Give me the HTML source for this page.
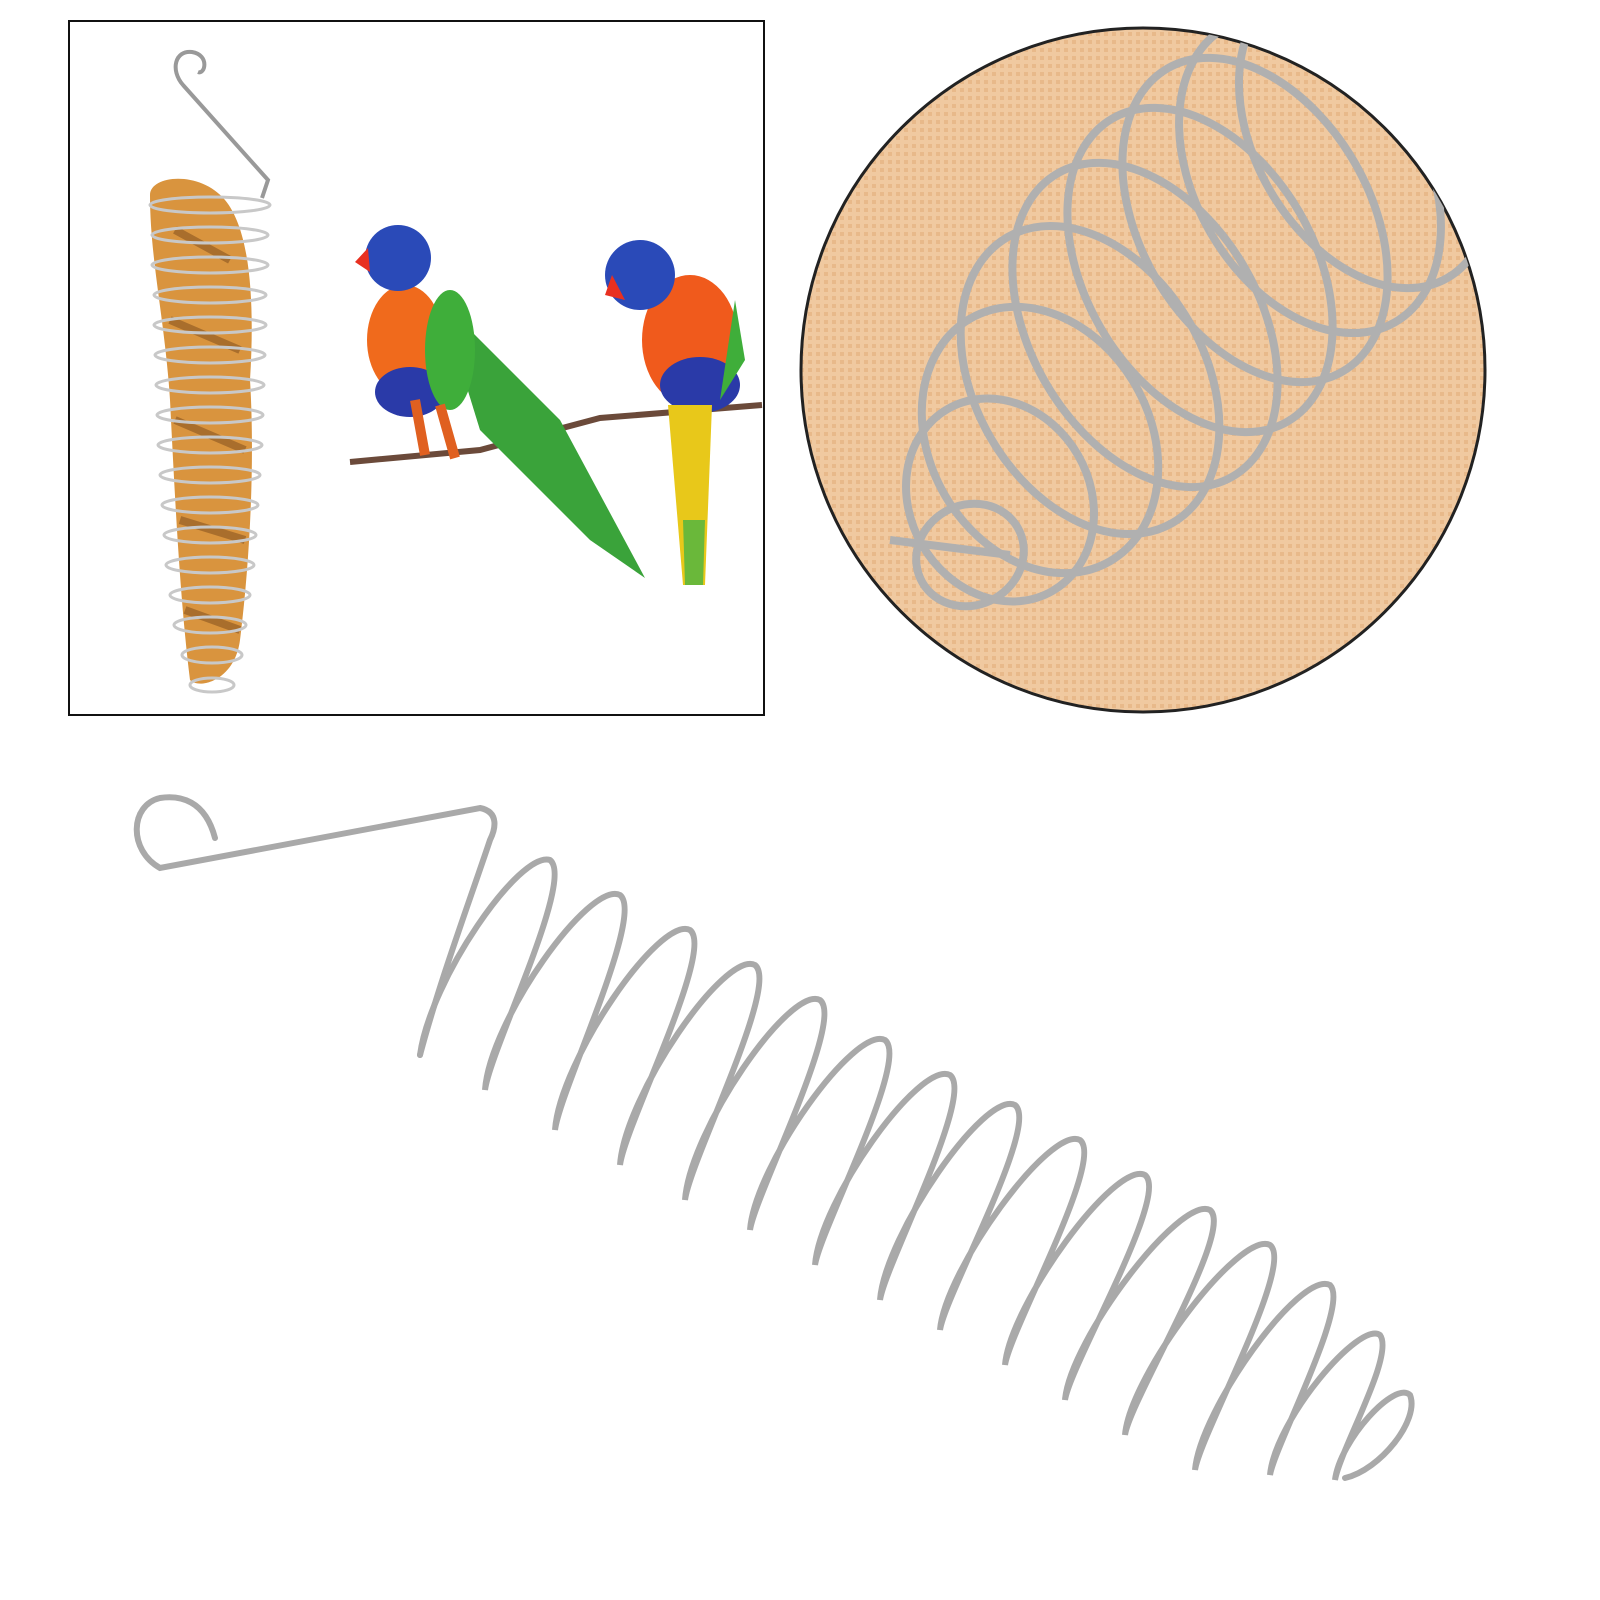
<!DOCTYPE html>
<html><head><meta charset="utf-8"><style>
html,body{margin:0;padding:0;background:#fff;}
svg{display:block;}
</style></head><body>
<svg width="1600" height="1600" viewBox="0 0 1600 1600" xmlns="http://www.w3.org/2000/svg">
<defs>
<clipPath id="cc"><circle cx="1143" cy="370" r="342"/></clipPath>
<pattern id="mesh" width="8" height="8" patternUnits="userSpaceOnUse">
<rect width="8" height="8" fill="#f0c9a0"/><rect width="4" height="4" fill="#e8b98a"/>
</pattern>
</defs>
<rect width="1600" height="1600" fill="#fff"/>
<rect x="69" y="21" width="695" height="694" fill="#fff" stroke="#111" stroke-width="2"/>
<path d="M183 85 C170 70 175 50 192 52 C210 55 205 75 198 72 M183 85 L268 180 L262 198" fill="none" stroke="#999" stroke-width="4"/>
<path d="M150 195 C150 175 200 170 225 200 C250 230 255 300 250 380 C255 460 250 560 240 640 C235 680 200 690 190 680 C180 600 175 500 170 400 C165 320 150 260 150 195 Z" fill="#d9943e"/>
<path d="M175 230 L230 260 M170 320 L240 350 M175 420 L245 450 M180 520 L245 540 M185 610 L240 630" stroke="#7a4a1c" stroke-width="8" opacity="0.5"/>
<g fill="none" stroke="#c8c8c8" stroke-width="3">
<ellipse cx="210" cy="205" rx="60" ry="8"/><ellipse cx="210" cy="235" rx="58" ry="8"/><ellipse cx="210" cy="265" rx="58" ry="8"/>
<ellipse cx="210" cy="295" rx="56" ry="8"/><ellipse cx="210" cy="325" rx="56" ry="8"/><ellipse cx="210" cy="355" rx="55" ry="8"/>
<ellipse cx="210" cy="385" rx="54" ry="8"/><ellipse cx="210" cy="415" rx="53" ry="8"/><ellipse cx="210" cy="445" rx="52" ry="8"/>
<ellipse cx="210" cy="475" rx="50" ry="8"/><ellipse cx="210" cy="505" rx="48" ry="8"/><ellipse cx="210" cy="535" rx="46" ry="8"/>
<ellipse cx="210" cy="565" rx="44" ry="8"/><ellipse cx="210" cy="595" rx="40" ry="8"/><ellipse cx="210" cy="625" rx="36" ry="8"/>
<ellipse cx="212" cy="655" rx="30" ry="8"/><ellipse cx="212" cy="685" rx="22" ry="7"/>
</g>
<path d="M350 462 L480 450 L600 418 L762 405" fill="none" stroke="#6b4a3a" stroke-width="6"/>
<path d="M440 300 L560 420 L645 578 L590 540 L480 430 Z" fill="#3aa33a"/>
<ellipse cx="405" cy="340" rx="38" ry="55" fill="#f06a1c"/>
<ellipse cx="410" cy="392" rx="35" ry="25" fill="#2a3aa8"/>
<ellipse cx="450" cy="350" rx="25" ry="60" fill="#3fae3a"/>
<circle cx="398" cy="258" r="33" fill="#2a4ab8"/>
<path d="M368 248 L355 262 L370 272 Z" fill="#e83020"/>
<path d="M415 400 L425 455 M440 405 L455 458" stroke="#e06020" stroke-width="10"/>
<ellipse cx="690" cy="340" rx="48" ry="65" fill="#f05a1c"/>
<ellipse cx="700" cy="385" rx="40" ry="28" fill="#2a3aa8"/>
<path d="M735 300 L745 360 L720 400 Z" fill="#3fae3a"/>
<path d="M668 405 L712 405 L705 585 L683 585 Z" fill="#e8c81a"/>
<path d="M683 520 L705 520 L703 585 L685 585 Z" fill="#6ab83a"/>
<circle cx="640" cy="275" r="35" fill="#2a4ab8"/>
<path d="M612 275 L605 295 L625 300 Z" fill="#e83020"/>
<circle cx="1143" cy="370" r="342" fill="url(#mesh)" stroke="#222" stroke-width="3"/>
<g clip-path="url(#cc)" fill="none" stroke="#b0b0b0" stroke-width="8">
<ellipse cx="970" cy="555" rx="55" ry="50" transform="rotate(-30 970 555)"/>
<ellipse cx="1000" cy="500" rx="90" ry="105" transform="rotate(-30 1000 500)"/>
<ellipse cx="1040" cy="440" rx="110" ry="140" transform="rotate(-30 1040 440)"/>
<ellipse cx="1090" cy="380" rx="115" ry="165" transform="rotate(-30 1090 380)"/>
<ellipse cx="1145" cy="325" rx="115" ry="175" transform="rotate(-30 1145 325)"/>
<ellipse cx="1200" cy="270" rx="115" ry="175" transform="rotate(-30 1200 270)"/>
<ellipse cx="1255" cy="220" rx="115" ry="175" transform="rotate(-30 1255 220)"/>
<ellipse cx="1310" cy="175" rx="115" ry="170" transform="rotate(-30 1310 175)"/>
<ellipse cx="1365" cy="135" rx="110" ry="165" transform="rotate(-30 1365 135)"/>
<path d="M890 540 L1010 555"/>
</g>
<g fill="none" stroke="#a9a9a9" stroke-width="6" stroke-linecap="round">
<path d="M215 838 C205 800 180 795 160 798 C130 805 128 850 160 868 L480 808 C500 812 495 830 490 840 C470 900 440 980 420 1055"/>
<path d="M420 1055 C430 980 520 850 550 860 C575 880 490 1050 485 1090
 C490 1020 590 880 620 895 C645 915 560 1090 555 1130
 C560 1060 660 915 690 930 C715 950 625 1125 620 1165
 C625 1095 725 950 755 965 C780 985 690 1160 685 1200
 C690 1130 790 985 820 1000 C845 1020 755 1195 750 1230
 C755 1165 855 1025 885 1040 C910 1060 820 1230 815 1265
 C820 1200 920 1060 950 1075 C975 1095 885 1265 880 1300
 C885 1235 985 1090 1015 1105 C1040 1125 945 1295 940 1330
 C945 1270 1050 1125 1080 1140 C1105 1160 1010 1330 1005 1365
 C1010 1305 1115 1160 1145 1175 C1170 1195 1070 1365 1065 1400
 C1070 1340 1180 1195 1210 1210 C1235 1230 1130 1400 1125 1435
 C1130 1375 1240 1230 1270 1245 C1295 1265 1200 1435 1195 1470
 C1200 1410 1300 1270 1330 1285 C1350 1305 1275 1445 1270 1475
 C1275 1420 1360 1320 1380 1335 C1395 1355 1340 1450 1335 1480
 C1340 1440 1395 1380 1410 1395 C1420 1420 1380 1470 1345 1478"/>
</g>
</svg>
</body></html>
